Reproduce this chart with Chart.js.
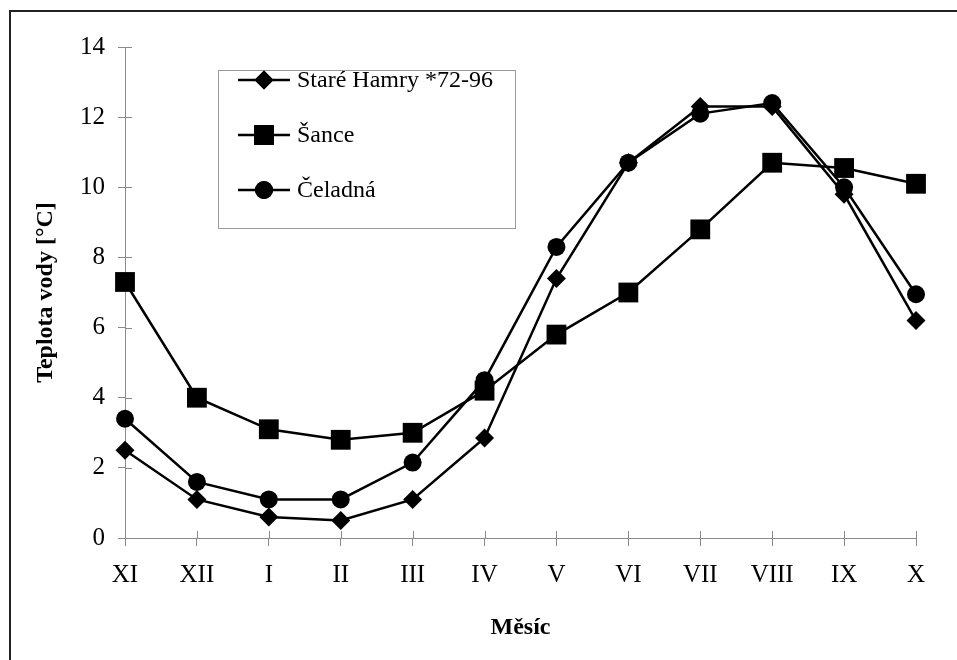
<!DOCTYPE html>
<html lang="cs">
<head>
  <meta charset="UTF-8">
  <title>Teplota vody</title>
  <script src="https://cdn.jsdelivr.net/npm/chart.js"></script>
  <style>
    html, body { margin: 0; padding: 0; background: #fff; }
    #wrap { width: 957px; height: 660px; }
  </style>
</head>
<body>
  <div id="wrap"><canvas id="chart" width="957" height="660"></canvas></div>

  <script>
    const months = ["XI", "XII", "I", "II", "III", "IV", "V", "VI", "VII", "VIII", "IX", "X"];
    const stareHamry = [2.5, 1.1, 0.6, 0.5, 1.1, 2.85, 7.4, 10.7, 12.3, 12.3, 9.8, 6.2];
    const sance = [7.3, 4.0, 3.1, 2.8, 3.0, 4.2, 5.8, 7.0, 8.8, 10.7, 10.55, 10.1];
    const celadna = [3.4, 1.6, 1.1, 1.1, 2.15, 4.5, 8.3, 10.7, 12.1, 12.4, 10.0, 6.95];
    const seriesNames = ["Staré Hamry *72-96", "Šance", "Čeladná"];
    const markerStyles = ["rectRot", "rect", "circle"];
    const markerSizes = [9.5, 14, 9];

    const serif = '"Liberation Serif", "Times New Roman", serif';
    const axisGray = "#8a8a8a";

    // frame round the figure, inner tick marks and the boxed legend
    const extras = {
      id: "extras",
      afterDraw(chart) {
        const ctx = chart.ctx;
        const area = chart.chartArea;
        ctx.save();

        // scanned frame: only top and left edges are visible
        ctx.strokeStyle = "#222";
        ctx.lineWidth = 2;
        ctx.beginPath();
        ctx.moveTo(10, 700);
        ctx.lineTo(10, 11);
        ctx.lineTo(960, 11);
        ctx.stroke();

        // tick marks that cross into the plot
        ctx.strokeStyle = axisGray;
        ctx.lineWidth = 1;
        ctx.beginPath();
        const xs = chart.scales.x;
        xs.ticks.forEach((t, i) => {
          const px = Math.round(xs.getPixelForTick(i)) + 0.5;
          ctx.moveTo(px, area.bottom);
          ctx.lineTo(px, area.bottom - 7);
        });
        const ys = chart.scales.y;
        ys.ticks.forEach((t, i) => {
          const py = Math.round(ys.getPixelForTick(i)) + 0.5;
          ctx.moveTo(area.left, py);
          ctx.lineTo(area.left + 7, py);
        });
        ctx.stroke();

        // legend box
        const box = { x: 218, y: 70, w: 297, h: 158 };
        ctx.fillStyle = "#fff";
        ctx.fillRect(box.x, box.y, box.w, box.h);
        ctx.strokeStyle = "#9a9a9a";
        ctx.strokeRect(box.x + 0.5, box.y + 0.5, box.w, box.h);

        const rows = [80, 135, 190];
        seriesNames.forEach((name, i) => {
          const y = rows[i];
          ctx.strokeStyle = "#000";
          ctx.lineWidth = 2.5;
          ctx.beginPath();
          ctx.moveTo(238, y);
          ctx.lineTo(290, y);
          ctx.stroke();
          ctx.fillStyle = "#000";
          Chart.helpers.drawPoint(ctx, {
            pointStyle: markerStyles[i],
            radius: markerSizes[i],
            rotation: 0,
            borderWidth: 0
          }, 264, y);
          ctx.fill();
          ctx.font = "24px " + serif;
          ctx.textBaseline = "middle";
          ctx.textAlign = "left";
          ctx.fillText(name, 297, y + 1);
        });

        ctx.restore();
      }
    };

    function makeSet(label, data, i) {
      return {
        label: label,
        data: data,
        borderColor: "#000",
        borderWidth: 2.5,
        backgroundColor: "#000",
        pointBackgroundColor: "#000",
        pointBorderColor: "#000",
        pointBorderWidth: 0,
        pointStyle: markerStyles[i],
        pointRadius: markerSizes[i],
        tension: 0,
        clip: false
      };
    }

    new Chart(document.getElementById("chart").getContext("2d"), {
      type: "line",
      data: {
        labels: months,
        datasets: [
          makeSet(seriesNames[0], stareHamry, 0),
          makeSet(seriesNames[1], sance, 1),
          makeSet(seriesNames[2], celadna, 2)
        ]
      },
      options: {
        responsive: false,
        animation: false,
        layout: { padding: { top: 47, right: 41, left: 0, bottom: 0 } },
        plugins: {
          legend: { display: false },
          tooltip: { enabled: false }
        },
        scales: {
          x: {
            offset: false,
            grid: { drawOnChartArea: false, tickLength: 8, color: axisGray, lineWidth: 1 },
            border: { color: axisGray, width: 1 },
            ticks: { color: "#000", font: { family: serif, size: 25 }, padding: 14, maxRotation: 0, autoSkip: false },
            title: { display: true, text: "Měsíc", color: "#000", font: { family: serif, size: 24, weight: "bold" }, padding: 18 },
            afterFit(scale) { scale.height = 122; }
          },
          y: {
            min: 0,
            max: 14,
            grid: { drawOnChartArea: false, tickLength: 7, color: axisGray, lineWidth: 1 },
            border: { color: axisGray, width: 1 },
            ticks: { stepSize: 2, color: "#000", font: { family: serif, size: 25 }, padding: 13 },
            title: { display: true, text: "Teplota vody [°C]", color: "#000", font: { family: serif, size: 24, weight: "bold" }, padding: { top: 31, bottom: 0 } },
            afterFit(scale) { scale.width = 125; }
          }
        }
      },
      plugins: [extras]
    });
  </script>
</body>
</html>
